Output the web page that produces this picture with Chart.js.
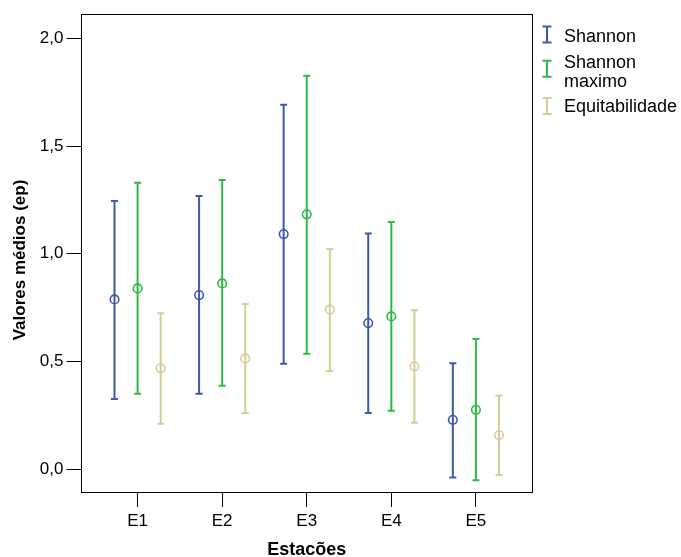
<!DOCTYPE html>
<html>
<head>
<meta charset="utf-8">
<script src="https://cdn.jsdelivr.net/npm/chart.js@4.4.1/dist/chart.umd.min.js"></script>
<style>
html,body{margin:0;padding:0;background:#fff;}
#wrap{width:681px;height:557px;position:relative;}
</style>
</head>
<body>
<div id="wrap"><canvas id="c" width="681" height="557"></canvas></div>
<script>
// ---- data ----
const categories = ['E1','E2','E3','E4','E5'];
const seriesNames = ['Shannon', ['Shannon','maximo'], 'Equitabilidade'];
const shannonMean = [0.788, 0.808, 1.091, 0.678, 0.229];
const shannonLow  = [0.325, 0.350, 0.489, 0.261, -0.039];
const shannonHigh = [1.245, 1.268, 1.692, 1.094, 0.492];
const maxMean = [0.839, 0.862, 1.183, 0.709, 0.275];
const maxLow  = [0.350, 0.387, 0.535, 0.271, -0.052];
const maxHigh = [1.329, 1.342, 1.826, 1.147, 0.604];
const eqMean = [0.468, 0.514, 0.740, 0.477, 0.158];
const eqLow  = [0.210, 0.261, 0.456, 0.215, -0.028];
const eqHigh = [0.724, 0.766, 1.022, 0.738, 0.340];
const yTickValues = [0, 0.5, 1.0, 1.5, 2.0];
const xTitle = 'Estacões';
const yTitle = 'Valores médios (ep)';

// ---- styling ----
const colors = ['#3E58AC', '#2EB848', '#D3CE97'];
const offsets = [-0.273, 0, 0.273];
const FONT = '"Liberation Sans", Arial, Helvetica, sans-serif';

const series = [
  {mean: shannonMean, low: shannonLow, high: shannonHigh},
  {mean: maxMean, low: maxLow, high: maxHigh},
  {mean: eqMean, low: eqLow, high: eqHigh}
];

const datasets = series.map((s, si) => ({
  type: 'scatter',
  label: Array.isArray(seriesNames[si]) ? seriesNames[si].join(' ') : seriesNames[si],
  data: s.mean.map((m, i) => ({x: i + 1 + offsets[si], y: m})),
  borderColor: colors[si],
  backgroundColor: 'rgba(0,0,0,0)',
  pointRadius: 4.3,
  pointBorderWidth: 1.6,
  pointBackgroundColor: 'rgba(0,0,0,0)',
  pointBorderColor: colors[si],
  showLine: false
}));

const errorBars = {
  id: 'errorBars',
  beforeDatasetsDraw(chart) {
    const {ctx, scales: {x, y}} = chart;
    ctx.save();
    series.forEach((s, si) => {
      ctx.strokeStyle = colors[si];
      ctx.lineWidth = 2;
      s.mean.forEach((m, i) => {
        const px = x.getPixelForValue(i + 1 + offsets[si]);
        const yl = y.getPixelForValue(s.low[i]);
        const yh = y.getPixelForValue(s.high[i]);
        ctx.beginPath();
        ctx.moveTo(px, yl); ctx.lineTo(px, yh);
        ctx.moveTo(px - 3.5, yl); ctx.lineTo(px + 3.5, yl);
        ctx.moveTo(px - 3.5, yh); ctx.lineTo(px + 3.5, yh);
        ctx.stroke();
      });
    });
    ctx.restore();
  },
  afterDraw(chart) {
    const {ctx, chartArea: a} = chart;
    ctx.save();
    ctx.strokeStyle = '#000';
    ctx.lineWidth = 1;
    const l = Math.round(a.left) + 0.5, t = Math.round(a.top) + 0.5;
    const r = Math.round(a.right) - 0.5, b = Math.round(a.bottom) - 0.5;
    ctx.strokeRect(l, t, r - l, b - t);
    // y axis title
    ctx.save();
    ctx.translate(20, 260);
    ctx.rotate(-Math.PI / 2);
    ctx.fillStyle = '#000';
    ctx.font = 'bold 17px ' + FONT;
    ctx.textAlign = 'center';
    ctx.textBaseline = 'middle';
    ctx.fillText(yTitle, 0, 0);
    ctx.restore();
    // legend
    const items = [
      {c: colors[0], iy: 34.5, lines: [['Shannon', 41.7]]},
      {c: colors[1], iy: 68.7, lines: [['Shannon', 67.7], ['maximo', 87]]},
      {c: colors[2], iy: 106, lines: [['Equitabilidade', 111.7]]}
    ];
    items.forEach((it) => {
      ctx.strokeStyle = it.c;
      ctx.lineWidth = 2;
      const ix = 547;
      ctx.beginPath();
      ctx.moveTo(ix, it.iy - 8); ctx.lineTo(ix, it.iy + 8);
      ctx.moveTo(ix - 4.5, it.iy - 8); ctx.lineTo(ix + 4.5, it.iy - 8);
      ctx.moveTo(ix - 4.5, it.iy + 8); ctx.lineTo(ix + 4.5, it.iy + 8);
      ctx.stroke();
      ctx.fillStyle = '#000';
      ctx.font = '18px ' + FONT;
      ctx.textAlign = 'left';
      ctx.textBaseline = 'alphabetic';
      it.lines.forEach(([txt, by]) => ctx.fillText(txt, 564, by));
    });
    ctx.restore();
  }
};

new Chart(document.getElementById('c'), {
  type: 'scatter',
  data: {datasets},
  options: {
    responsive: false,
    animation: false,
    devicePixelRatio: 1,
    layout: {padding: {top: 14, right: 148, left: 0, bottom: 0}},
    plugins: {legend: {display: false}, tooltip: {enabled: false}},
    scales: {
      x: {
        type: 'linear',
        min: 0.325,
        max: 5.675,
        afterBuildTicks(scale) { scale.ticks = categories.map((c, i) => ({value: i + 1})); },
        afterFit(scale) { scale.height = 64; },
        grid: {display: true, drawOnChartArea: false, drawTicks: true, tickLength: 14, color: '#000', lineWidth: 1},
        border: {display: false},
        ticks: {
          autoSkip: false, maxRotation: 0, padding: 4, color: '#000',
          font: {family: FONT, size: 17},
          callback: (v) => categories[Math.round(v) - 1]
        },
        title: {display: true, text: xTitle, color: '#000',
          font: {family: FONT, size: 18, weight: 'bold', lineHeight: 1}, padding: {top: 0, bottom: -2}}
      },
      y: {
        type: 'linear',
        min: -0.111,
        max: 2.113,
        afterBuildTicks(scale) { scale.ticks = yTickValues.map(v => ({value: v})); },
        afterFit(scale) { scale.width = 80.5; },
        grid: {display: true, drawOnChartArea: false, drawTicks: true, tickLength: 14, color: '#000', lineWidth: 1},
        border: {display: false},
        ticks: {
          autoSkip: false, padding: 3, color: '#000',
          font: {family: FONT, size: 17},
          callback: (v) => v.toFixed(1).replace('.', ',')
        },
        title: {display: false}
      }
    }
  },
  plugins: [errorBars]
});
</script>
</body>
</html>
